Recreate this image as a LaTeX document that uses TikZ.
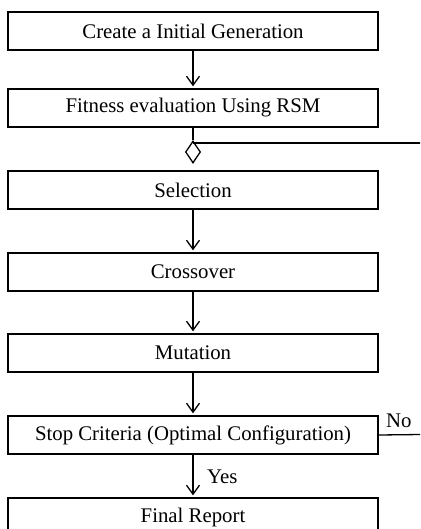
\documentclass[tikz,border=0pt]{standalone}
\usepackage{fontspec}
\setmainfont{Liberation Serif}
\usetikzlibrary{arrows.meta,shapes.geometric}
\begin{document}
\begin{tikzpicture}[x=1pt,y=1pt,
  box/.style={draw, line width=1.4pt, minimum width=370pt, minimum height=38pt, inner sep=0pt,
    font=\fontsize{20.8}{24}\selectfont},
  arr/.style={line width=1.3pt, -{Straight Barb[length=9pt,width=13pt,line width=1.3pt]}, shorten >=2pt},
  conn/.style={line width=1.3pt},
  lbl/.style={inner sep=0pt, font=\fontsize{20.8}{24}\selectfont}]
\clip (0,0) rectangle (420,-529);
\useasboundingbox (0,0) rectangle (420,-529);
\node[box] (b1) at (193,-31) {Create a Initial Generation};
\node[box] (b2) at (193,-108) {Fitness evaluation Using RSM};
\node[box] (b3) at (193,-190) {Selection};
\node[box] (b4) at (193,-272) {Crossover};
\node[box] (b5) at (193,-353) {Mutation};
\node[box] (b6) at (193,-435) {Stop Criteria (Optimal Configuration)};
\node[box] (b7) at (193,-517) {Final Report};
\node[diamond, draw, line width=1.3pt, minimum width=15pt, minimum height=22pt, inner sep=0pt] (dm) at (193,-152) {};
\coordinate (fj) at (193,-143);
\coordinate (fr) at (421,-143);
\coordinate (nr) at (421,-434.5);
\draw[arr] (b1) -- (b2);
\draw[conn] (b2) -- (dm.north);
\draw[conn] (fj) -- (fr);
\draw[arr] (b3) -- (b4);
\draw[arr] (b4) -- (b5);
\draw[arr] (b5) -- (b6);
\draw[arr] (b6) -- (b7);
\draw[conn] (b6.east) -- (nr);
\node[lbl, anchor=west] (yes) at (207,-477) {Yes};
\node[lbl, anchor=west] (no) at (386,-421) {No};
\end{tikzpicture}
\end{document}
